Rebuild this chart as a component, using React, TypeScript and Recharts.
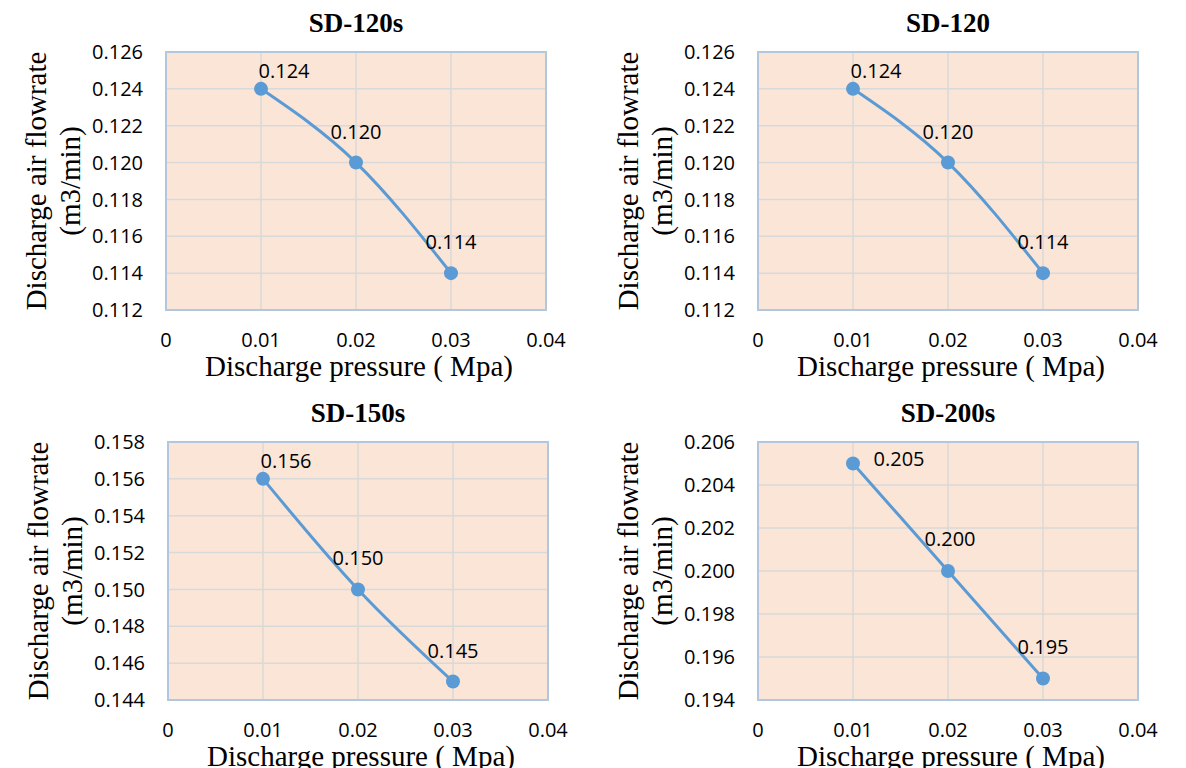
import { CartesianGrid, Label, LabelList, Line, LineChart, ReferenceArea, XAxis, YAxis } from "recharts";

const pressure = [0.01, 0.02, 0.03];
const pressureTicks = [0, 0.01, 0.02, 0.03, 0.04];

const titles = ["SD-120s", "SD-120", "SD-150s", "SD-200s"];

const flowSD120s = [0.124, 0.12, 0.114];
const flowSD120 = [0.124, 0.12, 0.114];
const flowSD150s = [0.156, 0.15, 0.145];
const flowSD200s = [0.205, 0.2, 0.195];

const ticksSD120s = [0.112, 0.114, 0.116, 0.118, 0.12, 0.122, 0.124, 0.126];
const ticksSD120 = [0.112, 0.114, 0.116, 0.118, 0.12, 0.122, 0.124, 0.126];
const ticksSD150s = [0.144, 0.146, 0.148, 0.15, 0.152, 0.154, 0.156, 0.158];
const ticksSD200s = [0.194, 0.196, 0.198, 0.2, 0.202, 0.204, 0.206];

const SANS = "'Open Sans', 'Noto Sans', sans-serif";
const SERIF = "'Liberation Serif', 'Times New Roman', serif";
const BLUE = "#5B9BD5";

const W = 592;
const H = 390;
const PLOT_LEFT = 166;
const PLOT_W = 380;
const PLOT_TOP = 52;
const X_AXIS_H = 80;

type Offset = [number, number];

function Panel({
  title,
  flow,
  yTicks,
  offsets,
  left,
  top,
}: {
  title: string;
  flow: number[];
  yTicks: number[];
  offsets: Offset[];
  left: number;
  top: number;
}) {
  const data = pressure.map((p, i) => ({ p, q: flow[i] }));
  const yMin = yTicks[0];
  const yMax = yTicks[yTicks.length - 1];
  const midY = PLOT_TOP + (H - PLOT_TOP - X_AXIS_H) / 2;
  const midX = PLOT_LEFT + PLOT_W / 2;

  return (
    <div style={{ position: "absolute", left, top, width: W, height: H }}>
      <div
        style={{
          position: "absolute",
          left: 0,
          top: 10,
          width: midX * 2,
          textAlign: "center",
          fontFamily: SERIF,
          fontWeight: "bold",
          fontSize: 27,
          lineHeight: "27px",
          color: "#000",
        }}
      >
        {title}
      </div>
      <LineChart width={W} height={H} data={data} margin={{ top: PLOT_TOP, right: W - PLOT_LEFT - PLOT_W, bottom: 0, left: 0 }}>
        <CartesianGrid fill="#FBE5D6" stroke="#D9D9D9" strokeWidth={1.5} />
        <ReferenceArea x1={0} x2={0.04} y1={yMin} y2={yMax} fillOpacity={0} stroke="#B0C7DF" strokeWidth={2} />
        <XAxis
          type="number"
          dataKey="p"
          domain={[0, 0.04]}
          ticks={pressureTicks}
          tickFormatter={(v: number) => (v === 0 ? "0" : v.toFixed(2))}
          axisLine={false}
          tickLine={false}
          tickSize={0}
          tickMargin={23}
          height={X_AXIS_H}
          tick={{ fontFamily: SANS, fontSize: 20, fill: "#000" }}
          interval={0}
        >
          <Label
            content={() => (
              <text x={midX + 3} y={376} textAnchor="middle" fontFamily={SERIF} fontSize={29} fill="#000">
                Discharge pressure ( Mpa)
              </text>
            )}
          />
        </XAxis>
        <YAxis
          type="number"
          dataKey="q"
          domain={[yMin, yMax]}
          ticks={yTicks}
          tickFormatter={(v: number) => v.toFixed(3)}
          axisLine={false}
          tickLine={false}
          tickSize={0}
          tickMargin={23}
          width={PLOT_LEFT}
          tick={{ fontFamily: SANS, fontSize: 20, fill: "#000" }}
          interval={0}
        >
          <Label
            content={() => (
              <g fontFamily={SERIF} fontSize={29} fill="#000">
                <text x={46} y={midY} textAnchor="middle" transform={`rotate(-90, 46, ${midY})`}>
                  Discharge air flowrate
                </text>
                <text x={80} y={midY} textAnchor="middle" transform={`rotate(-90, 80, ${midY})`}>
                  (m3/min)
                </text>
              </g>
            )}
          />
        </YAxis>
        <Line
          type="monotone"
          dataKey="q"
          stroke={BLUE}
          strokeWidth={3}
          dot={{ r: 7, fill: BLUE, stroke: "none" }}
          isAnimationActive={false}
        >
          <LabelList
            dataKey="q"
            content={(props: any) => {
              const { x, y, value, index } = props;
              const [dx, dy] = offsets[index] || [0, -30];
              return (
                <text x={x + dx} y={y + dy + 7} textAnchor="middle" fontFamily={SANS} fontSize={20} fill="#000">
                  {Number(value).toFixed(3)}
                </text>
              );
            }}
          />
        </Line>
      </LineChart>
    </div>
  );
}

export default function App() {
  const above: Offset[] = [
    [23, -18],
    [0, -31],
    [0, -31],
  ];
  const right: Offset[] = [
    [46, -5],
    [2, -32],
    [0, -32],
  ];
  return (
    <div
      style={{
        position: "absolute",
        left: 0,
        top: 0,
        width: 1186,
        height: 768,
        overflow: "hidden",
        background: "#fff",
      }}
    >
      <Panel title={titles[0]} flow={flowSD120s} yTicks={ticksSD120s} offsets={above} left={0} top={0} />
      <Panel title={titles[1]} flow={flowSD120} yTicks={ticksSD120} offsets={above} left={W} top={0} />
      <Panel title={titles[2]} flow={flowSD150s} yTicks={ticksSD150s} offsets={above} left={2} top={390} />
      <Panel title={titles[3]} flow={flowSD200s} yTicks={ticksSD200s} offsets={right} left={W} top={390} />
    </div>
  );
}
